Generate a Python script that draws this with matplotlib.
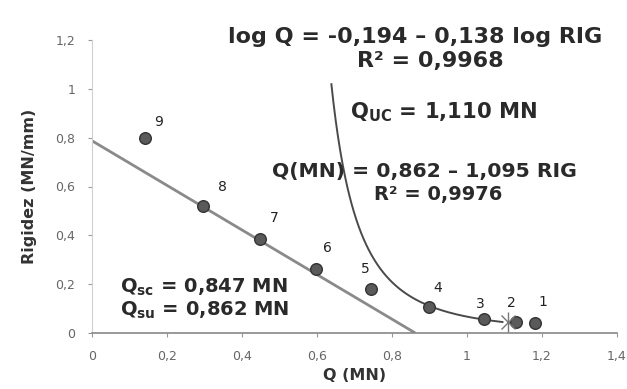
import matplotlib
matplotlib.use("Agg")
import matplotlib.pyplot as plt
import numpy as np

# Data points (Q in MN, rigidity in MN/mm)
point_labels = ["1", "2", "3", "4", "5", "6", "7", "8", "9"]
q_points = [1.18, 1.13, 1.045, 0.898, 0.745, 0.597, 0.448, 0.297, 0.142]
rig_points = [0.040, 0.045, 0.057, 0.106, 0.180, 0.261, 0.384, 0.522, 0.797]

# Linear fit: Q = 0.862 - 1.095 RIG
lin_a = 0.862
lin_b = 1.095
q_line = [0.0, 0.862]

# Power-type trendline
q_curve = [0.6275, 0.690, 0.698, 0.717, 0.770, 0.824, 0.898, 0.957, 1.045, 1.110]
rig_curve = [1.019, 0.604, 0.543, 0.408, 0.269, 0.176, 0.106, 0.0735, 0.057, 0.045]

# Ultimate load marker
q_uc = [1.110]
rig_uc = [0.045]

x_ticks = [0, 0.2, 0.4, 0.6, 0.8, 1.0, 1.2, 1.4]
x_ticklabels = ["0", "0,2", "0,4", "0,6", "0,8", "1", "1,2", "1,4"]
y_ticks = [0, 0.2, 0.4, 0.6, 0.8, 1.0, 1.2]
y_ticklabels = ["0", "0,2", "0,4", "0,6", "0,8", "1", "1,2"]

# label offsets in pixels
label_dx = [8, -4, -4, 9, -6, 12, 14, 19, 13]
label_dy = [21, 19, 15, 19, 20, 21, 21, 19, 16]

fig = plt.figure(figsize=(6.27, 3.89), dpi=100)
ax = fig.add_axes([92 / 627, 1 - 333 / 389, (617 - 92) / 627, (333 - 40) / 389])

rig_line = [(lin_a - q) / lin_b for q in q_line]
ax.plot(q_line, rig_line, color="#8a8a8a", lw=2.0, zorder=2, solid_capstyle="butt")

# smooth trendline (log-log fit through the sampled curve)
coef = np.polyfit(np.log(rig_curve), np.log(q_curve), 2)
r_dense = np.exp(np.linspace(np.log(max(rig_curve)), np.log(min(rig_curve)), 200))
q_dense = np.exp(np.polyval(coef, np.log(r_dense)))
ax.plot(q_dense, r_dense, color="#4a4a4a", lw=1.4, zorder=2)

ax.scatter(q_points, rig_points, s=70, color="#5a5a5a", edgecolors="#333333",
           linewidths=1.0, zorder=3)
ax.plot(q_uc, rig_uc, linestyle="none", marker="x", markersize=10,
        markeredgecolor="#777777", markeredgewidth=1.0, zorder=4)
ax.plot(q_uc, rig_uc, linestyle="none", marker="|", markersize=14,
        markeredgecolor="#777777", markeredgewidth=1.0, zorder=4)

for lab, q, r, dx, dy in zip(point_labels, q_points, rig_points, label_dx, label_dy):
    ax.annotate(lab, (q, r), xytext=(dx, dy), textcoords="offset pixels",
                fontsize=10, color="#222222", ha="center", va="center")

ax.set_xlim(0, 1.4)
ax.set_ylim(0, 1.2)
ax.set_xticks(x_ticks)
ax.set_xticklabels(x_ticklabels)
ax.set_yticks(y_ticks)
ax.set_yticklabels(y_ticklabels)
ax.tick_params(axis="both", labelsize=9, colors="#999999", labelcolor="#666666", length=3)
ax.tick_params(axis="x", pad=9)
ax.tick_params(axis="y", pad=9)

for s in ["top", "right"]:
    ax.spines[s].set_visible(False)
ax.spines["left"].set_color("#d0d0d0")
ax.spines["bottom"].set_color("#888888")
ax.spines["bottom"].set_linewidth(1.2)

ax.set_xlabel("Q (MN)", fontsize=11.5, fontweight="bold", color="#333333", labelpad=4)
ax.set_ylabel("Rigidez (MN/mm)", fontsize=11.5, fontweight="bold", color="#333333", labelpad=13)

tc = "#2a2a2a"
fig.text(415 / 627, 1 - 37 / 389, "log Q = -0,194 \u2013 0,138 log RIG", fontsize=16,
         fontweight="bold", color=tc, ha="center", va="center")
fig.text(430 / 627, 1 - 61 / 389, "R\u00b2 = 0,9968", fontsize=16,
         fontweight="bold", color=tc, ha="center", va="center")
fig.text(350 / 627, 1 - 112 / 389, r"Q$_{\mathbf{UC}}$ = 1,110 MN", fontsize=15.2,
         fontweight="bold", color=tc, ha="left", va="center")
fig.text(272 / 627, 1 - 172 / 389, "Q(MN) = 0,862 \u2013 1,095 RIG", fontsize=14.7,
         fontweight="bold", color=tc, ha="left", va="center")
fig.text(438 / 627, 1 - 194 / 389, "R\u00b2 = 0,9976", fontsize=14,
         fontweight="bold", color=tc, ha="center", va="center")
fig.text(120 / 627, 1 - 287 / 389, r"Q$_{\mathbf{sc}}$ = 0,847 MN", fontsize=14,
         fontweight="bold", color=tc, ha="left", va="center")
fig.text(120 / 627, 1 - 310 / 389, r"Q$_{\mathbf{su}}$ = 0,862 MN", fontsize=14,
         fontweight="bold", color=tc, ha="left", va="center")

fig.savefig("out.png", dpi=100)
